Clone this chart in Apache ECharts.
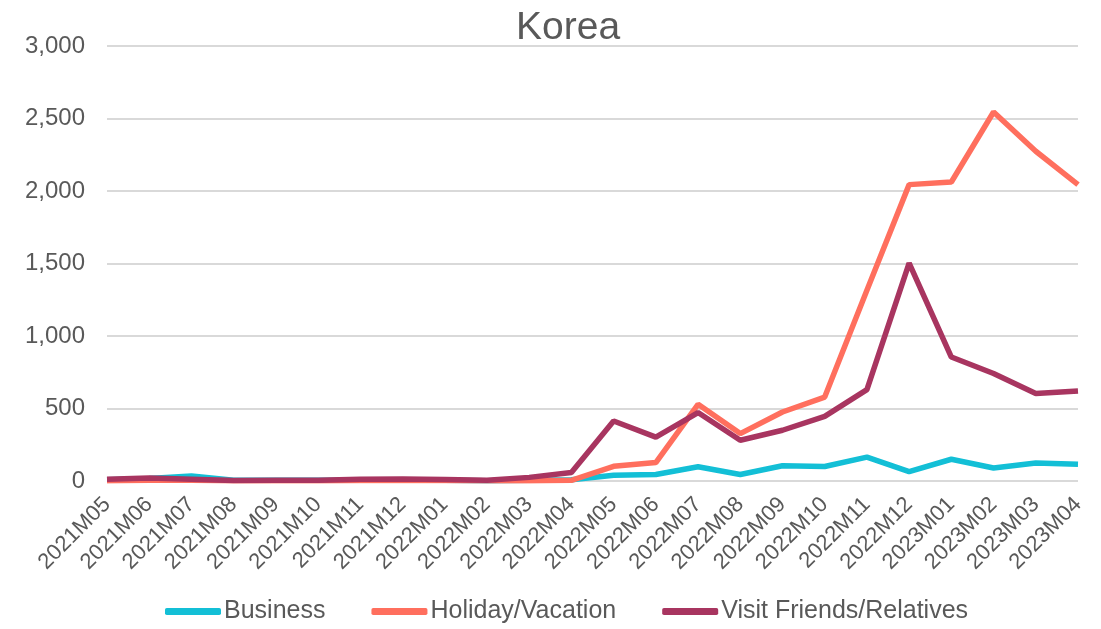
<!DOCTYPE html>
<html><head><meta charset="utf-8">
<script src="https://cdn.jsdelivr.net/npm/echarts@6/dist/echarts.min.js"></script>
<style>html,body{margin:0;padding:0;background:#fff}#c{width:1101px;height:629px}</style>
</head><body><div id="c"></div>
<script>
const categories = ['2021M05','2021M06','2021M07','2021M08','2021M09','2021M10','2021M11','2021M12','2022M01','2022M02','2022M03','2022M04','2022M05','2022M06','2022M07','2022M08','2022M09','2022M10','2022M11','2022M12','2023M01','2023M02','2023M03','2023M04'];
const business = [8,18,35,5,5,5,5,5,5,2,5,8,40,45,98,45,105,100,165,65,150,90,124,115];
const holiday = [2,5,5,2,2,2,3,3,3,2,2,5,101,127,529,327,476,579,1315,2044,2062,2545,2274,2044];
const vfr = [12,20,12,3,5,5,12,14,10,5,25,58,414,303,472,281,350,446,630,1503,855,741,603,621];
const yTicks = {min:0, max:3000, interval:500};
const font = 'Liberation Sans';
const chart = echarts.init(document.getElementById('c'));
chart.setOption({
  animation:false,
  title:{text:'Korea', left:511, top:4, textStyle:{fontFamily:font, fontSize:39, fontWeight:'normal', color:'#595959'}},
  grid:{left:107, right:23, top:46, bottom:148},
  legend:{bottom:0, left:160, itemGap:46, itemWidth:56, itemHeight:7, icon:'roundRect',
    textStyle:{fontFamily:font, fontSize:25, color:'#595959', padding:[0,0,0,-2]},
    data:['Business','Holiday/Vacation','Visit Friends/Relatives']},
  xAxis:{type:'category', data:categories, boundaryGap:false,
    axisLine:{show:false}, axisTick:{show:false},
    axisLabel:{rotate:45, fontFamily:font, fontSize:22, color:'#595959', margin:20, interval:0}},
  yAxis:{type:'value', min:yTicks.min, max:yTicks.max, interval:yTicks.interval,
    axisLabel:{fontFamily:font, fontSize:24, color:'#595959', margin:22,
      formatter:v=>v.toLocaleString('en-US')},
    splitLine:{lineStyle:{color:'#d9d9d9', width:2}}},
  series:[
    {name:'Business', type:'line', data:business, symbol:'none', lineStyle:{width:5.5, color:'#13BFD6'}, itemStyle:{color:'#13BFD6'}},
    {name:'Holiday/Vacation', type:'line', data:holiday, symbol:'none', lineStyle:{width:5.5, color:'#FF6F5E'}, itemStyle:{color:'#FF6F5E'}},
    {name:'Visit Friends/Relatives', type:'line', data:vfr, symbol:'none', lineStyle:{width:5.5, color:'#A83560'}, itemStyle:{color:'#A83560'}}
  ]
});
</script></body></html>
